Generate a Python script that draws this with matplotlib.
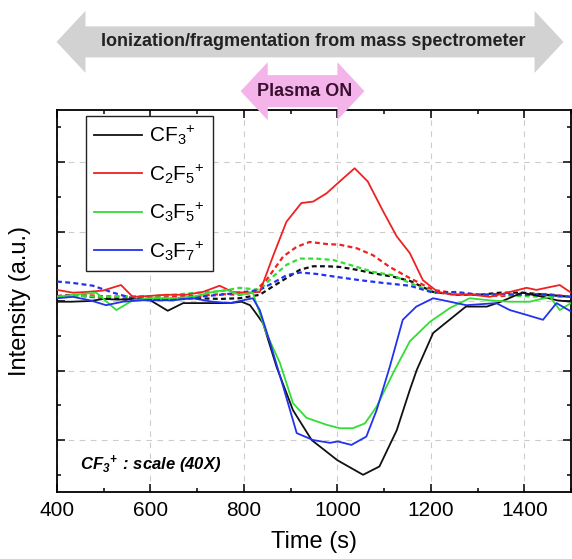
import matplotlib
matplotlib.use('Agg')
import matplotlib.pyplot as plt
from matplotlib.patches import Polygon
from matplotlib.ticker import MultipleLocator

plt.rcParams['font.family'] = 'Liberation Sans'
plt.rcParams['mathtext.fontset'] = 'custom'
plt.rcParams['mathtext.rm'] = 'Liberation Sans'
plt.rcParams['mathtext.it'] = 'Liberation Sans:italic'
plt.rcParams['mathtext.bf'] = 'Liberation Sans:bold:italic'

# solid lines: signal with plasma
t_cf3 = [400, 430, 470, 500, 530, 560, 600, 637, 670, 720, 770, 795, 813, 823, 841, 870, 905, 945,
         1000, 1055, 1090, 1127, 1155, 1170, 1205, 1240, 1275, 1320, 1350, 1395, 1440, 1470, 1500]
y_cf3 = [-0.01, -0.01, 0.0, 0.03, 0.02, 0.03, 0.01, -0.14, -0.03, -0.03, -0.03, -0.01, -0.06, -0.15,
         -0.32, -0.95, -1.57, -2.0, -2.29, -2.5, -2.38, -1.86, -1.28, -0.99, -0.46, -0.27, -0.08,
         -0.08, -0.01, 0.12, 0.06, 0.01, -0.01]

t_c2f5 = [400, 434, 462, 498, 537, 562, 590, 633, 676, 712, 748, 776, 805, 834, 862, 891, 923, 948,
          977, 1005, 1037, 1065, 1098, 1127, 1155, 1183, 1215, 1247, 1290, 1326, 1369, 1405, 1426,
          1447, 1476, 1500]
y_c2f5 = [0.16, 0.12, 0.13, 0.15, 0.23, 0.06, 0.07, 0.09, 0.09, 0.13, 0.22, 0.13, 0.12, 0.13, 0.64,
          1.14, 1.41, 1.43, 1.55, 1.72, 1.91, 1.72, 1.29, 0.93, 0.69, 0.30, 0.13, 0.09, 0.09, 0.06,
          0.13, 0.19, 0.16, 0.19, 0.23, 0.12]

t_c3f5 = [400, 434, 484, 527, 562, 599, 642, 690, 733, 763, 791, 819, 848, 877, 905, 934, 977, 1005,
          1033, 1059, 1084, 1119, 1155, 1198, 1241, 1283, 1326, 1369, 1412, 1455, 1476, 1500]
y_c3f5 = [0.06, 0.09, 0.12, -0.13, 0.01, 0.04, 0.04, 0.06, 0.13, 0.16, 0.09, 0.12, -0.46, -0.89,
          -1.47, -1.68, -1.78, -1.83, -1.83, -1.76, -1.52, -1.04, -0.58, -0.30, -0.10, 0.04, 0.01,
          -0.01, -0.01, 0.06, -0.13, -0.03]

t_c3f7 = [400, 434, 471, 505, 541, 578, 605, 648, 690, 733, 770, 798, 819, 834, 856, 884, 913, 948,
          984, 1001, 1030, 1062, 1084, 1112, 1140, 1169, 1205, 1241, 1276, 1340, 1369, 1405, 1440,
          1469, 1500]
y_c3f7 = [0.04, 0.06, 0.01, -0.06, -0.01, 0.01, 0.01, 0.01, 0.04, -0.01, -0.03, 0.01, 0.04, -0.13,
          -0.60, -1.23, -1.90, -2.0, -2.04, -2.02, -2.07, -1.95, -1.57, -0.95, -0.27, -0.08, 0.04,
          -0.01, -0.06, -0.03, -0.13, -0.20, -0.27, -0.03, -0.15]

# dashed lines
t_cf3_d = [400, 434, 470, 520, 560, 600, 650, 700, 750, 791, 834, 862, 891, 920, 948, 977, 1005,
           1041, 1076, 1119, 1155, 1205, 1255, 1305, 1348, 1397, 1447, 1500]
y_cf3_d = [0.07, 0.09, 0.06, 0.04, 0.01, 0.03, 0.03, 0.04, 0.03, 0.04, 0.09, 0.21, 0.33, 0.45, 0.50,
           0.50, 0.49, 0.45, 0.40, 0.35, 0.29, 0.13, 0.09, 0.09, 0.12, 0.12, 0.09, 0.06]

t_c2f5_d = [400, 450, 500, 550, 600, 650, 700, 750, 791, 820, 848, 884, 913, 941, 977, 1005, 1041,
            1076, 1112, 1155, 1205, 1255, 1305, 1350, 1400, 1450, 1500]
y_c2f5_d = [0.07, 0.09, 0.07, 0.06, 0.06, 0.07, 0.07, 0.10, 0.09, 0.12, 0.30, 0.64, 0.78, 0.85,
            0.82, 0.81, 0.76, 0.66, 0.49, 0.33, 0.16, 0.11, 0.09, 0.07, 0.10, 0.10, 0.06]

t_c3f5_d = [400, 450, 500, 550, 600, 650, 700, 750, 791, 834, 862, 891, 920, 955, 991, 1027, 1076,
            1119, 1155, 1205, 1255, 1305, 1350, 1400, 1450, 1500]
y_c3f5_d = [0.06, 0.07, 0.06, 0.07, 0.07, 0.09, 0.12, 0.14, 0.19, 0.16, 0.35, 0.52, 0.61, 0.61,
            0.59, 0.52, 0.42, 0.37, 0.26, 0.13, 0.10, 0.09, 0.09, 0.07, 0.06, 0.06]

t_c3f7_d = [400, 434, 477, 520, 562, 605, 650, 700, 750, 791, 834, 862, 891, 920, 955, 1005, 1048,
            1098, 1155, 1205, 1255, 1305, 1350, 1400, 1450, 1500]
y_c3f7_d = [0.28, 0.26, 0.22, 0.12, 0.04, 0.03, 0.03, 0.06, 0.09, 0.12, 0.16, 0.26, 0.37, 0.41,
            0.39, 0.34, 0.30, 0.26, 0.22, 0.12, 0.13, 0.09, 0.10, 0.09, 0.09, 0.06]

labels = [r'$\mathregular{CF_3\!{}^+}$', r'$\mathregular{C_2F_5\!{}^+}$',
          r'$\mathregular{C_3F_5\!{}^+}$', r'$\mathregular{C_3F_7\!{}^+}$']
colors = ['#111111', '#ee2222', '#33dd33', '#2233ee']

# time spans of the two arrows on top
ms_span = (399, 1484)
plasma_span = (793, 1058)


def double_arrow(ax, x0, x1, yc, body, head, hlen, color):
    pts = [(x0, yc), (x0 + hlen, yc + head), (x0 + hlen, yc + body), (x1 - hlen, yc + body),
           (x1 - hlen, yc + head), (x1, yc), (x1 - hlen, yc - head), (x1 - hlen, yc - body),
           (x0 + hlen, yc - body), (x0 + hlen, yc - head)]
    poly = Polygon(pts, closed=True, transform=ax.get_xaxis_transform(), clip_on=False,
                   fc=color, ec='none', zorder=10)
    ax.add_patch(poly)


fig = plt.figure(figsize=(5.72, 5.59), dpi=100)
ax = fig.add_axes([57 / 572, 67.5 / 559, 514 / 572, 382 / 559])

dashed = [(t_cf3_d, y_cf3_d), (t_c2f5_d, y_c2f5_d), (t_c3f5_d, y_c3f5_d), (t_c3f7_d, y_c3f7_d)]
solid = [(t_cf3, y_cf3), (t_c2f5, y_c2f5), (t_c3f5, y_c3f5), (t_c3f7, y_c3f7)]

for (t, y), c in zip(dashed, colors):
    ax.plot(t, y, color=c, lw=1.6, dashes=(2.2, 1.5), zorder=3)
for (t, y), c, lab in zip(solid, colors, labels):
    ax.plot(t, y, color=c, lw=1.3, label=lab, zorder=4)

ax.set_xlim(400, 1500)
ax.set_ylim(-2.74, 2.755)
ax.xaxis.set_major_locator(MultipleLocator(200))
ax.xaxis.set_minor_locator(MultipleLocator(100))
ax.yaxis.set_major_locator(MultipleLocator(1))
ax.yaxis.set_minor_locator(MultipleLocator(0.5))
ax.set_yticklabels([])
ax.tick_params(which='both', direction='in', top=True, right=True, width=1.1)
ax.tick_params(which='major', length=6, labelsize=15, pad=7)
ax.tick_params(which='minor', length=3)
ax.grid(True, which='major', color='#cccccc', linestyle=(0, (5, 5)), lw=0.8)
for s in ax.spines.values():
    s.set_linewidth(1.3)

ax.set_xlabel('Time (s)', fontsize=17, labelpad=8)
ax.set_ylabel('Intensity (a.u.)', fontsize=17, labelpad=12)

leg = ax.legend(loc='upper left', bbox_to_anchor=(0.056, 0.984), borderaxespad=0,
                fontsize=15, handlelength=2.3, handletextpad=0.35, labelspacing=0.72,
                borderpad=0.4, fancybox=False, framealpha=1)
leg.get_frame().set_edgecolor('#222222')
leg.get_frame().set_linewidth(1.0)

ax.text(0.045, 0.069, r'$\mathbf{CF_3\!{}^+}$ : scale (40X)', transform=ax.transAxes,
        fontsize=12, fontweight='bold', style='italic', va='center', ha='left')

double_arrow(ax, ms_span[0], ms_span[1], 1.177, 0.0406, 0.0812, 62, '#d2d2d2')
ax.text(949, 1.177, 'Ionization/fragmentation from mass spectrometer',
        transform=ax.get_xaxis_transform(), ha='center', va='center', fontsize=13,
        fontweight='bold', color='#222222', zorder=11)
double_arrow(ax, plasma_span[0], plasma_span[1], 1.048, 0.042, 0.076, 58, '#f4b4ea')
ax.text(929, 1.048, 'Plasma ON', transform=ax.get_xaxis_transform(), ha='center',
        va='center', fontsize=13, fontweight='bold', color='#3a1030', zorder=11)

fig.savefig('out.png', dpi=100)
